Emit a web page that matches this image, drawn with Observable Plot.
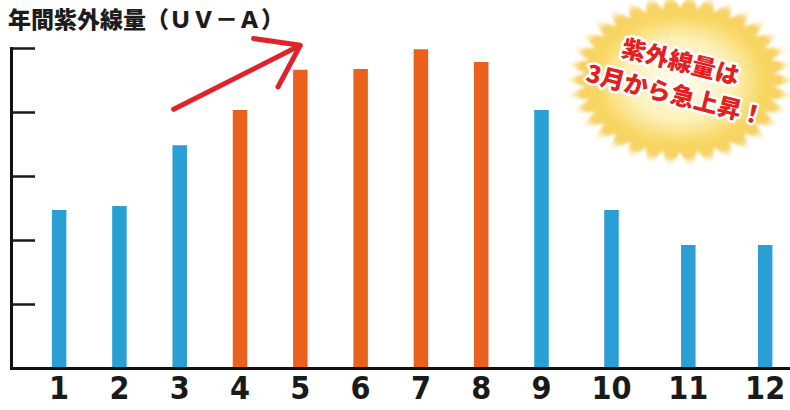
<!DOCTYPE html>
<html><head><meta charset="utf-8">
<script src="https://cdn.jsdelivr.net/npm/d3@7"></script>
<script src="https://cdn.jsdelivr.net/npm/@observablehq/plot@0.6"></script>
<style>
body{margin:0;background:#fff;}
#wrap{position:relative;width:790px;height:410px;overflow:hidden;background:#fff;}
#title{height:34px;padding-left:8px;font:900 23px "Noto Sans CJK JP";line-height:36px;color:#1c1c1c;white-space:nowrap;}
g[aria-label="x-axis tick label"] text{font-stretch:condensed;}
</style></head><body>
<div id="wrap"><div id="title">年間紫外線量（ＵＶ－Ａ）</div></div>
<script>
// ---- data ----
const months = [1, 2, 3, 4, 5, 6, 7, 8, 9, 10, 11, 12];
const uvValues = [2.47, 2.53, 3.48, 4.03, 4.66, 4.67, 4.98, 4.78, 4.03, 2.47, 1.92, 1.92];
const surge = [false, false, false, true, true, true, true, true, false, false, false, false];
const groups = ["通常", "急上昇"];
const groupColors = ["#2a9fd6", "#e9611c"];
const yTicks = [1, 2, 3, 4, 5];
const calloutLines = ["紫外線量は", "3月から急上昇！"];
const arrowData = [{x1: 2.9, y1: 4.05, x2: 5.0, y2: 5.05}];

const table = months.map((m, i) => ({month: m, value: uvValues[i], group: surge[i] ? groups[1] : groups[0]}));

// decorative starburst callout
function burstMark(index, scales, values, dims) {
  const g = d3.create("svg:g");
  const cx = dims.width - 110, cy = 46, rx = 118, ry = 90;
  const defs = g.append("defs");
  const grad = defs.append("radialGradient").attr("id", "burstGrad");
  [[0, "#fffdf2", 1], [0.45, "#fdf0b8", 1], [0.7, "#f8d865", 1], [0.86, "#f5ca48", 0.85], [1, "#ffffff", 0]]
    .forEach(([o, c, op]) => grad.append("stop").attr("offset", o).attr("stop-color", c).attr("stop-opacity", op));
  const filt = defs.append("filter").attr("id", "burstBlur").attr("x", "-10%").attr("y", "-10%").attr("width", "120%").attr("height", "120%");
  filt.append("feGaussianBlur").attr("stdDeviation", 1.5);
  const n = 34, pts = [];
  for (let i = 0; i < 2 * n; i++) {
    const a = i * Math.PI / n, r = i % 2 ? 0.8 : 1;
    pts.push([cx + rx * r * Math.cos(a), cy + ry * r * Math.sin(a)]);
  }
  g.append("path").attr("d", d3.line()(pts) + "Z").attr("fill", "url(#burstGrad)").attr("filter", "url(#burstBlur)");
  const pos = [[cx + 1, cy - 20], [cx - 4, cy + 13]];
  calloutLines.forEach((t, i) => {
    g.append("text")
      .attr("transform", `translate(${pos[i][0]},${pos[i][1]}) rotate(14)`)
      .attr("text-anchor", "middle").attr("dominant-baseline", "central")
      .attr("font-family", "Noto Sans CJK JP").attr("font-weight", 900).attr("font-size", 24)
      .attr("fill", "#e2211c").attr("stroke", "#fff").attr("stroke-width", 5)
      .attr("stroke-linejoin", "round").attr("paint-order", "stroke")
      .text(t);
  });
  return g.node();
}

const chart = Plot.plot({
  width: 790, height: 376,
  marginLeft: 11, marginRight: 0, marginTop: 14, marginBottom: 42,
  style: {overflow: "visible", background: "transparent"},
  x: {type: "linear", domain: [0.21, 9, 10, 12.33], range: [11, 541, 611, 790], axis: null},
  y: {domain: [0, 5], axis: null},
  color: {domain: groups, range: groupColors},
  marks: [
    burstMark,
    Plot.ruleX(table, {x: "month", y1: 0, y2: "value", stroke: "group", strokeWidth: 14.5}),
    Plot.ruleY(yTicks, {y: d => d, insetRight: 755, stroke: "#1a1a1a", strokeWidth: 2.5}),
    Plot.frame({anchor: "left", stroke: "#111", strokeWidth: 3}),
    Plot.frame({anchor: "bottom", stroke: "#111", strokeWidth: 3}),
    Plot.axisX({ticks: months, tickSize: 0, tickPadding: 8, tickFormat: d => String(d),
      fontSize: 32, fontWeight: 700, fontFamily: "'DejaVu Sans Condensed', 'DejaVu Sans', sans-serif", fill: "#1a1a1a"}),
    Plot.arrow(arrowData, {x1: "x1", y1: "y1", x2: "x2", y2: "y2", stroke: "#e0232b", strokeWidth: 5, headLength: 18, headAngle: 70})
  ]
});
document.getElementById("wrap").appendChild(chart);
</script>
</body></html>
